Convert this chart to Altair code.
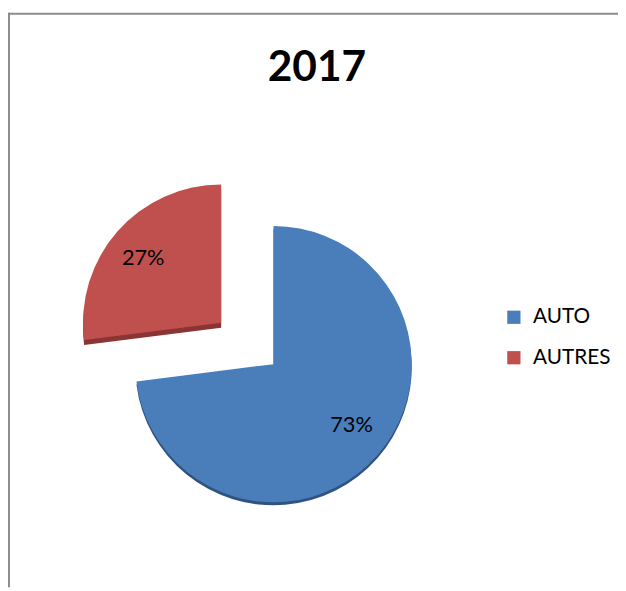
import altair as alt
import pandas as pd

categories = ["AUTO", "AUTRES"]
values = [73, 27]
labels = ["73%", "27%"]
colors = ["#4A7EBB", "#C0504D"]
shadow_colors = ["#2F5280", "#8A3533"]
title_text = "2017"

df = pd.DataFrame({"category": categories, "value": values, "label": labels, "order": [0, 1]})

W, H = 618, 583
CX, CY = 269, 357          # centre of the main pie (plot coords)
R = 140
EXPLODE = (-53, -42)        # offset of the AUTRES slice
FONT = "Lato"

base = alt.Chart(df).transform_stack(
    stack="value", groupby=[], as_=["start", "end"], sort=[alt.SortField("order")]
)
theta_scale = alt.Scale(domain=[0, 100])
color_scale = alt.Scale(domain=categories, range=colors)


def slice_layers(cat, idx, dx, dy, lx, ly, depth):
    f = base.transform_filter(alt.datum.category == cat)
    shadow = f.mark_arc(radius=R, color=shadow_colors[idx], xOffset=dx, yOffset=dy + depth).encode(
        theta=alt.Theta("start:Q", scale=theta_scale),
        theta2="end:Q",
        x=alt.value(CX),
        y=alt.value(CY),
    )
    top = f.mark_arc(radius=R, xOffset=dx, yOffset=dy).encode(
        theta=alt.Theta("start:Q", scale=theta_scale),
        theta2="end:Q",
        color=alt.Color(
            "category:N",
            scale=color_scale,
            legend=alt.Legend(
                title=None,
                orient="none",
                legendX=502,
                legendY=299,
                symbolType="square",
                symbolSize=180,
                symbolStrokeWidth=0,
                labelFontSize=21,
                labelFont=FONT,
                labelColor="#000000",
                rowPadding=19,
                labelOffset=9,
            ),
        ),
        x=alt.value(CX),
        y=alt.value(CY),
    )
    text = f.mark_text(font=FONT, fontSize=22, color="#000000", baseline="middle", align="center").encode(
        text="label:N", x=alt.value(lx), y=alt.value(ly)
    )
    return [shadow, top, text]


auto_layers = slice_layers("AUTO", 0, 0, 0, 348, 419, 3)
autres_layers = slice_layers("AUTRES", 1, EXPLODE[0], EXPLODE[1], 137, 250, 5)

title = alt.Chart(pd.DataFrame({"t": [title_text]})).mark_text(
    font=FONT, fontSize=43, fontWeight="bold", color="#000000", baseline="middle", align="center"
).encode(text="t:N", x=alt.value(313), y=alt.value(57))

border_top = alt.Chart(pd.DataFrame({"t": [0]})).mark_rule(color="#8c8c8c", strokeWidth=2).encode(
    x=alt.value(0), x2=alt.value(W), y=alt.value(2)
)
border_left = alt.Chart(pd.DataFrame({"t": [0]})).mark_rule(color="#8c8c8c", strokeWidth=2).encode(
    x=alt.value(1), y=alt.value(1), y2=alt.value(H)
)

chart = alt.layer(
    border_top, border_left,
    autres_layers[0], autres_layers[1], autres_layers[2],
    auto_layers[0], auto_layers[1], auto_layers[2],
    title,
).properties(width=W, height=H, padding=0, autosize=alt.AutoSizeParams(type="none")).configure_view(
    stroke=None
).resolve_scale(theta="shared")

chart.save("out.html", embed_options={"renderer": "svg", "actions": False})
